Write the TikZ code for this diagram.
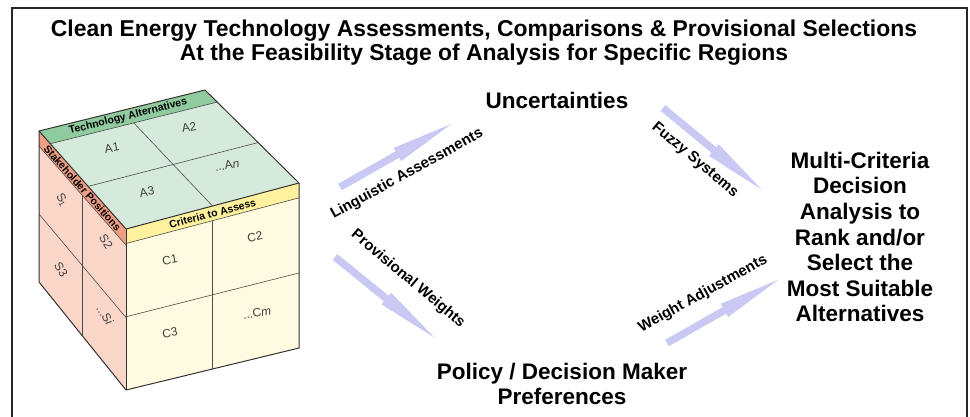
\documentclass[tikz,border=0pt]{standalone}
\usepackage{fontspec}
\setmainfont{Liberation Sans}
\usetikzlibrary{calc}

\definecolor{topfill}{HTML}{D6EADB}
\definecolor{topband}{HTML}{8FCB9E}
\definecolor{leftfill}{HTML}{F9D6C8}
\definecolor{leftband}{HTML}{EE9E82}
\definecolor{rightfill}{HTML}{FFFAE0}
\definecolor{rightband}{HTML}{FFF19E}
\definecolor{arrowfill}{HTML}{C9C9F3}

\begin{document}
\begin{tikzpicture}[x=1pt,y=-1pt,
  edge/.style={draw=black!80,line width=1pt,line join=round},
  gridline/.style={draw=black!70,line width=0.6pt},
  bandtext/.style={inner sep=0pt,font=\fontsize{10.5}{11}\selectfont\bfseries},
  celltext/.style={inner sep=0pt,text=black!75,font=\fontsize{12}{12}\selectfont},
  heading/.style={align=center,font=\fontsize{22.5}{25.6}\selectfont\bfseries},
  arrowlabel/.style={inner sep=0pt,font=\fontsize{15}{15}\selectfont\bfseries},
  pics/fatarrow/.style={code={
    \fill[arrowfill] (0,-3.7) -- (66,-3.7) -- (66,-7.6) -- (128,0) -- (66,7.6) -- (66,3.7) -- (0,3.7) -- cycle;
  }}]
\useasboundingbox (0,0) rectangle (970,416);
\draw[line width=2pt,black!85] (12,8) rectangle (967,430);

\node[heading,font=\fontsize{22.9}{24}\selectfont\bfseries] (title) at (484,43) {Clean Energy Technology Assessments, Comparisons \& Provisional Selections\\At the Feasibility Stage of Analysis for Specific Regions};

% cube corners
\coordinate (L) at (39,131);
\coordinate (B) at (205,90);
\coordinate (R) at (299,183);
\coordinate (F) at (126,229);
\coordinate (Lb) at (39,282);
\coordinate (Fb) at (126,390);
\coordinate (Rb) at (299,348);
% inner edges of the bands
\coordinate (L1) at ($(L)!.13!(F)$);
\coordinate (B1) at ($(B)!.13!(R)$);
\coordinate (L2) at ($(L)!.1!(Lb)$);
\coordinate (F2) at ($(F)!.1!(Fb)$);
\coordinate (F3) at ($(F)!.09!(Fb)$);
\coordinate (R3) at ($(R)!.09!(Rb)$);

\fill[topfill] (L1) -- (B1) -- (R) -- (F) -- cycle;
\fill[topband] (L) -- (B) -- (B1) -- (L1) -- cycle;
\fill[leftfill] (L2) -- (F2) -- (Fb) -- (Lb) -- cycle;
\fill[leftband] (L) -- (F) -- (F2) -- (L2) -- cycle;
\fill[rightfill] (F3) -- (R3) -- (Rb) -- (Fb) -- cycle;
\fill[rightband] (F) -- (R) -- (R3) -- (F3) -- cycle;

\draw[gridline] (L1) -- (B1);
\draw[gridline] (L2) -- (F2);
\draw[gridline] (F3) -- (R3);
\draw[gridline] ($(L1)!.5!(B1)$) -- ($(F)!.5!(R)$);
\draw[gridline] ($(L1)!.5!(F)$) -- ($(B1)!.5!(R)$);
\draw[gridline] ($(L2)!.5!(F2)$) -- ($(Lb)!.5!(Fb)$);
\draw[gridline] ($(L2)!.5!(Lb)$) -- ($(F2)!.5!(Fb)$);
\draw[gridline] ($(F3)!.5!(R3)$) -- ($(Fb)!.5!(Rb)$);
\draw[gridline] ($(F3)!.5!(Fb)$) -- ($(R3)!.5!(Rb)$);

\draw[edge] (L) -- (B) -- (R) -- (Rb) -- (Fb) -- (Lb) -- cycle;
\draw[edge] (L) -- (F) -- (R);
\draw[edge] (F) -- (Fb);

\node[bandtext,rotate=14] (techalt) at ($(L)!.5!(B1)$) {Technology Alternatives};
\node[bandtext,rotate=-48.5] (stake) at ($(L)!.5!(F2)$) {Stakeholder Positions};
\node[bandtext,rotate=14.8] (crit) at ($(F)!.5!(R3)$) {Criteria to Assess};

\node[celltext,rotate=10] (a1) at (112,148) {A1};
\node[celltext,rotate=10] (a2) at (189,127) {A2};
\node[celltext,rotate=10] (a3) at (147,192) {A3};
\node[celltext,rotate=10] (an) at (227,165) {...A\textit{n}};
\node[celltext,rotate=-58] (s1) at (62,200) {S\textsubscript{1}};
\node[celltext,rotate=-58] (s2) at (106,242) {S2};
\node[celltext,rotate=-58] (s3) at (61,270) {S3};
\node[celltext,rotate=-58] (si) at (105,315) {...S\textit{i}};
\node[celltext,rotate=10] (c1) at (170,260) {C1};
\node[celltext,rotate=10] (c2) at (255,237) {C2};
\node[celltext,rotate=10] (c3) at (170,333) {C3};
\node[celltext,rotate=10] (cm) at (257,313) {...C\textit{m}};

\node[heading] (unc) at (557,100) {Uncertainties};
\node[heading] (pref) at (562,384) {Policy / Decision Maker\\Preferences};
\node[heading] (mcda) at (860,237) {Multi-Criteria\\Decision\\Analysis to\\Rank and/or\\Select the\\Most Suitable\\Alternatives};

\pic[rotate=29.5] at (340,187) {fatarrow};
\pic[rotate=-39.6] at (663,108) {fatarrow};
\pic[rotate=-39] at (335,257) {fatarrow};
\pic[rotate=29.6] at (667,343) {fatarrow};

\node[arrowlabel,rotate=29] (ling) at (407,174) {Linguistic Assessments};
\node[arrowlabel,rotate=-40] (fuzzy) at (695,160) {Fuzzy Systems};
\node[arrowlabel,rotate=-40] (prov) at (408,279) {Provisional Weights};
\node[arrowlabel,rotate=29] (wadj) at (703,294) {Weight Adjustments};
\end{tikzpicture}
\end{document}
